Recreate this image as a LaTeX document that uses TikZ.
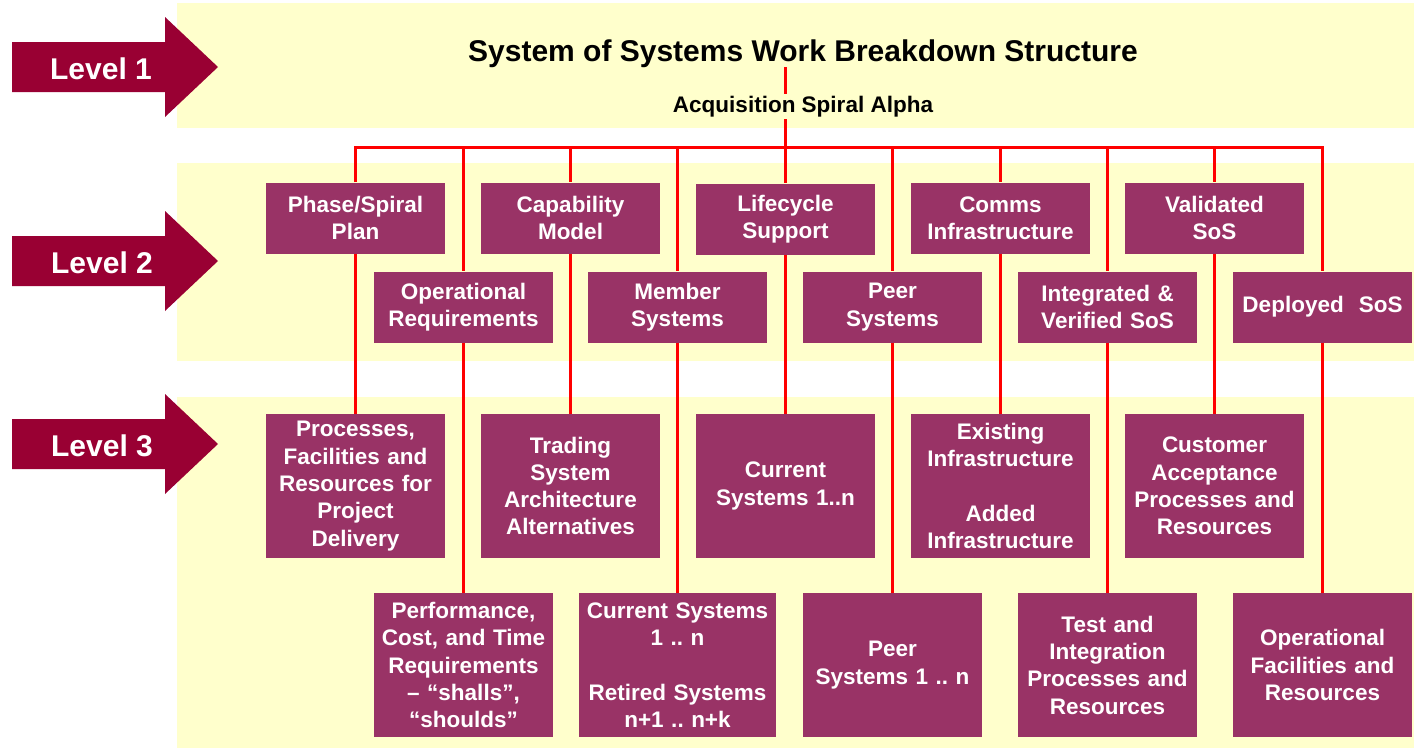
\documentclass[tikz,border=0pt]{standalone}
\usepackage{fontspec}
\setmainfont{Liberation Sans}
\definecolor{bandc}{HTML}{FFFFCC}
\definecolor{boxc}{HTML}{993366}
\definecolor{arrc}{HTML}{990033}
\definecolor{linkred}{HTML}{FF0000}
\frenchspacing
\begin{document}
\begin{tikzpicture}[x=1pt,y=-1pt,
  link/.style={draw=linkred,line width=3pt},
  box/.style={fill=boxc,text=white,font=\bfseries\fontsize{22.5}{27.3}\selectfont,align=center,inner xsep=2pt,inner ysep=0pt,text width=175pt},
  lvtwo/.style={box,minimum height=71pt},
  lvthree/.style={box,minimum height=144pt},
  band/.style={fill=bandc},
  arr/.style={fill=arrc},
  lvl/.style={text=white,font=\bfseries\fontsize{30}{36}\selectfont,anchor=base,inner sep=0pt}]
\useasboundingbox (0,0) rectangle (1414,750);
% bands
\fill[band] (177,3) rectangle (1414,128);
\fill[band] (177,163) rectangle (1414,361);
\fill[band] (177,397) rectangle (1414,748);
% level arrows
\fill[arr] (12,42) -- (165,42) -- (165,17) -- (218,67) -- (165,117) -- (165,92) -- (12,92) -- cycle;
\fill[arr] (12,236) -- (165,236) -- (165,211) -- (218,261) -- (165,311) -- (165,286) -- (12,286) -- cycle;
\fill[arr] (12,419) -- (165,419) -- (165,394) -- (218,444) -- (165,494) -- (165,469) -- (12,469) -- cycle;
\node[lvl] (lv1) at (101,79) {Level 1};
\node[lvl] (lv2) at (102,273) {Level 2};
\node[lvl] (lv3) at (102,456) {Level 3};
% level 1
\node[anchor=base,inner sep=0pt,font=\bfseries\fontsize{30}{36}\selectfont] (title) at (803,61) {System of Systems Work Breakdown Structure};
% level 2 top row
\node[lvtwo] (phase) at (355.5,218) {Phase/Spiral\\Plan};
\node[lvtwo] (capab) at (570.5,218) {Capability\\Model};
\node[lvtwo] (life) at (785.5,219) {Lifecycle\\Support};
\node[lvtwo] (comms) at (1000.5,218) {Comms\\Infrastructure};
\node[lvtwo] (valid) at (1214.5,218) {Validated\\SoS};
% level 2 bottom row
\node[lvtwo] (oper) at (463.5,307) {Operational\\Requirements};
\node[lvtwo] (member) at (677.5,307) {Member\\Systems};
\node[lvtwo] (peer) at (892.5,307) {Peer\\Systems};
\node[lvtwo] (integ) at (1107.5,307) {Integrated \&\\Verified SoS};
\node[lvtwo] (deploy) at (1322.5,307) {Deployed~~SoS};
% level 3 top row
\node[lvthree] (proc) at (355.5,486) {Processes,\\Facilities and\\Resources for\\Project\\Delivery};
\node[lvthree] (trade) at (570.5,486) {Trading\\System\\Architecture\\Alternatives};
\node[lvthree] (curr) at (785.5,486) {Current\\Systems 1..n};
\node[lvthree] (exist) at (1000.5,486) {Existing\\Infrastructure\\~\\Added\\Infrastructure};
\node[lvthree] (cust) at (1214.5,486) {Customer\\Acceptance\\Processes and\\Resources};
% level 3 bottom row
\node[lvthree] (perf) at (463.5,665) {Performance,\\Cost, and Time\\Requirements\\– “shalls”,\\“shoulds”};
\node[lvthree,text width=193pt] (currret) at (677.5,665) {Current Systems\\1 .. n\\~\\Retired Systems\\n+1 .. n+k};
\node[lvthree] (peersys) at (892.5,665) {Peer\\Systems 1 .. n};
\node[lvthree] (test) at (1107.5,665) {Test and\\Integration\\Processes and\\Resources};
\node[lvthree] (opfac) at (1322.5,665) {Operational\\Facilities and\\Resources};
% connectors
\coordinate (bus) at (0,147);
\draw[link] (title.south -| life.north) -- (life.north);
\node[anchor=base,inner xsep=1pt,inner ysep=2pt,fill=bandc,font=\bfseries\fontsize{22.5}{27}\selectfont] (acq) at (803,112) {Acquisition Spiral Alpha};
\draw[link] (phase.north) -- (phase.north |- bus) -- (deploy.north |- bus) -- (deploy.north);
\foreach \n in {capab,comms,valid,oper,member,peer,integ}
  \draw[link] (\n.north |- bus) -- (\n.north);
\draw[link] (phase.south) -- (proc.north);
\draw[link] (capab.south) -- (trade.north);
\draw[link] (life.south) -- (curr.north);
\draw[link] (comms.south) -- (exist.north);
\draw[link] (valid.south) -- (cust.north);
\draw[link] (oper.south) -- (perf.north);
\draw[link] (member.south) -- (currret.north);
\draw[link] (peer.south) -- (peersys.north);
\draw[link] (integ.south) -- (test.north);
\draw[link] (deploy.south) -- (opfac.north);
\end{tikzpicture}
\end{document}
